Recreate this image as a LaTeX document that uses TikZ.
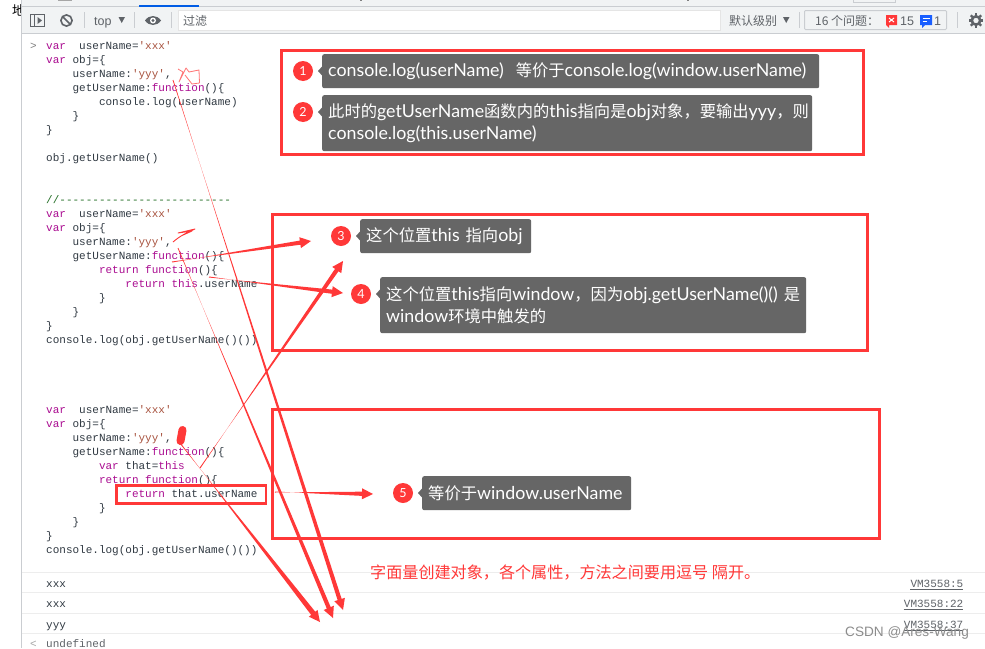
\documentclass[tikz,border=0pt]{standalone}
\usepackage{fontspec}
\usetikzlibrary{calc}
\setmainfont{Lato}
\newfontfamily\cjk{Noto Sans CJK SC}
\newfontfamily\cjkin[Scale=0.916]{Noto Sans CJK SC}
\newfontfamily\mono{Liberation Mono}
\newfontfamily\uisans{Liberation Sans}
\definecolor{redline}{HTML}{FF3838}
\definecolor{calloutgray}{HTML}{666666}
\definecolor{barbg}{HTML}{F1F3F4}
\definecolor{barline}{HTML}{CACDD1}
\definecolor{codebase}{HTML}{303942}
\definecolor{kw}{HTML}{AA0D91}
\definecolor{strc}{HTML}{A8533F}
\definecolor{cmt}{HTML}{236E25}
\definecolor{uigray}{HTML}{5F6368}
\definecolor{rowline}{HTML}{EDEDED}
\newcommand{\K}[1]{\textcolor{kw}{#1}}
\newcommand{\St}[1]{\textcolor{strc}{#1}}
\newcommand{\Cn}[1]{{\cjkin #1}}
\newcommand{\codeln}[4]{\node[codetext] (#1) at (#3,#2+4) {#4};}
% tapered arrow: from, to, tail half width, shaft half width, head half width, head length
\newcommand{\taper}[6]{%
  \coordinate (hb) at ($(#2)!#6pt!(#1)$);
  \fill[redline] ($(#1)!#3pt!90:(#2)$) -- ($(hb)!#4pt!-90:(#2)$) -- ($(hb)!#5pt!-90:(#2)$) -- (#2)
     -- ($(hb)!#5pt!90:(#2)$) -- ($(hb)!#4pt!90:(#2)$) -- ($(#1)!#3pt!-90:(#2)$) -- cycle;
}
\tikzset{
  codetext/.style={anchor=base west,inner sep=0pt,text=codebase,font=\mono\fontsize{11}{13}\selectfont},
  uitext/.style={anchor=base west,inner sep=0pt,text=uigray,font=\uisans\fontsize{12.5}{14}\selectfont},
  cjkui/.style={anchor=base west,inner sep=0pt,text=uigray,font=\cjk\fontsize{12}{14}\selectfont},
  linktext/.style={anchor=base east,inner sep=0pt,text=uigray,font=\mono\fontsize{11}{13}\selectfont},
  redbox/.style={draw=redline,line width=3pt,fill=none},
  callout/.style={anchor=north west,fill=calloutgray,rounded corners=2pt,text=white,inner xsep=6pt,inner ysep=0pt,align=left,font=\fontsize{17.8}{22}\selectfont},
  badge/.style={circle,fill=redline,text=white,minimum size=20pt,inner sep=0pt,font=\fontsize{12.5}{14}\selectfont},
  sepline/.style={draw=barline,line width=1pt},
  rowsep/.style={draw=rowline,line width=1pt},
}
\begin{document}
\begin{tikzpicture}[x=1pt,y=-1pt]
\useasboundingbox (0,0) rectangle (985,648);
\fill[white] (0,0) rectangle (985,648);
\node[anchor=base west,inner sep=0pt,font=\cjk\fontsize{13}{14}\selectfont] (pagechar) at (12,15) {地};
% browser chrome
\fill[white] (22,0) rectangle (985,648);
\fill[barbg] (22,0) rectangle (985,33);
\draw[barline,line width=1pt] (22,6.5) -- (985,6.5);
\draw[barline,line width=1pt] (22,33.5) -- (985,33.5);
\fill[blue!60!cyan!90!black] (139,5) rectangle (199,7);
\draw[gray!70,line width=1pt] (58,0.5) -- (72,0.5);
\draw[gray,line width=1pt] (360,0.5) -- (362,0.5);
\draw[gray,line width=1pt] (687,0.5) -- (689,0.5);
\draw[barline,line width=1pt] (853,0) -- (853,2) -- (895,2) -- (895,0);
\draw[barline,line width=1pt] (21.5,0) -- (21.5,648);
% toolbar icons
\draw[uigray,line width=1pt] (30.5,14.5) rectangle (44.5,26.5);
\draw[uigray,line width=1pt] (34.5,14.5) -- (34.5,26.5);
\fill[uigray] (37.5,17) -- (42,20.5) -- (37.5,24) -- cycle;
\draw[uigray,line width=1.6pt] (66.5,20.5) circle (5.6);
\draw[uigray,line width=1.6pt] (62.5,16.5) -- (70.5,24.5);
\draw[sepline] (84.5,12) -- (84.5,28);
\node[uitext] (topsel) at (94,25) {top};
\fill[uigray] (118.5,17) -- (125,17) -- (121.7,23) -- cycle;
\draw[sepline] (134.5,12) -- (134.5,28);
\fill[uigray] (145,20.5) .. controls (149,14.5) and (157,14.5) .. (161,20.5) .. controls (157,26.5) and (149,26.5) .. (145,20.5) -- cycle;
\fill[white] (153,20.5) circle (3);
\fill[uigray] (153,20.5) circle (1.7);
\draw[sepline] (171.5,12) -- (171.5,28);
\draw[fill=white,draw=black!10,line width=1pt] (178.5,10.5) rectangle (720.5,30.5);
\node[cjkui] (filterlabel) at (183,25) {过滤};
\node[cjkui] (levels) at (729,25) {默认级别};
\fill[uigray] (783,17) -- (789.5,17) -- (786.2,23) -- cycle;
\draw[sepline] (799.5,12) -- (799.5,28);
\draw[fill=barbg,draw=barline,line width=1pt,rounded corners=1pt] (804.5,10.5) rectangle (946.5,29.5);
\node[cjkui] (issues) at (815,25) {16 个问题：};
\fill[redline] (886,15) rectangle (897,25) (886,25) -- (889,28) -- (889,25) -- cycle;
\draw[white,line width=1pt] (889,18) -- (894,22) (894,18) -- (889,22);
\node[uitext] (issuesred) at (900,25) {15};
\fill[blue!70!cyan!90] (920,15) rectangle (932,25) (922,25) -- (922,28) -- (925,25) -- cycle;
\draw[white,line width=1pt] (922.5,18.5) -- (929.5,18.5) (922.5,21.5) -- (927,21.5);
\node[uitext] (issuesblue) at (934,25) {1};
\draw[sepline] (957.5,12) -- (957.5,28);
\draw[uigray,line width=2.6pt] (976,20.5) circle (4.2);
\foreach \a in {0,45,...,315}{\draw[uigray,line width=2.4pt] (976,20.5) ++(\a:5) -- ++(\a:2.4);}
% prompt
\node[anchor=base west,inner sep=0pt,font=\mono\fontsize{11}{12}\selectfont,text=gray] (prompt) at (30,49) {>};
% first block
\codeln{a1}{45}{46}{\K{var}~~userName=\St{'xxx'}}
\codeln{a2}{59}{46}{\K{var} obj=\{}
\codeln{a3}{73}{72.4}{userName:\St{'yyy'},}
\codeln{a4}{87}{72.4}{getUserName:\K{function}()\{}
\codeln{a5}{101}{98.8}{console.log(userName)}
\codeln{a6}{115}{72.4}{\}}
\codeln{a7}{129}{46}{\}}
\codeln{a8}{157}{46}{obj.getUserName()}
% second block
\codeln{b0}{199}{46}{\textcolor{cmt}{//--------------------------}}
\codeln{b1}{213}{46}{\K{var}~~userName=\St{'xxx'}}
\codeln{b2}{227}{46}{\K{var} obj=\{}
\codeln{b3}{241}{72.4}{userName:\St{'yyy'},}
\codeln{b4}{255}{72.4}{getUserName:\K{function}()\{}
\codeln{b5}{269}{98.8}{\K{return} \K{function}()\{}
\codeln{b6}{283}{125.2}{\K{return} \K{this}.userName}
\codeln{b7}{297}{98.8}{\}}
\codeln{b8}{311}{72.4}{\}}
\codeln{b9}{325}{46}{\}}
\codeln{b10}{339}{46}{console.log(obj.getUserName()())}
% third block
\codeln{c1}{409}{46}{\K{var}~~userName=\St{'xxx'}}
\codeln{c2}{423}{46}{\K{var} obj=\{}
\codeln{c3}{437}{72.4}{userName:\St{'yyy'},}
\codeln{c4}{451}{72.4}{getUserName:\K{function}()\{}
\codeln{c5}{465}{98.8}{\K{var} that=\K{this}}
\codeln{c6}{479}{98.8}{\K{return} \K{function}()\{}
\codeln{c7}{493}{125.2}{\K{return} that.userName}
\codeln{c8}{507}{98.8}{\}}
\codeln{c9}{521}{72.4}{\}}
\codeln{c10}{535}{46}{\}}
\codeln{c11}{549}{46}{console.log(obj.getUserName()())}
% log rows
\foreach \yy in {572.5,592.5,613.5,633.5}{\draw[rowsep] (22,\yy) -- (985,\yy);}
\codeln{r1}{583}{46}{xxx}
\codeln{r2}{603}{46}{xxx}
\codeln{r3}{624}{46}{yyy}
\node[codetext,text=uigray] (r4) at (46,647) {undefined};
\node[anchor=base west,inner sep=0pt,font=\mono\fontsize{11}{12}\selectfont,text=gray!70] (retmark) at (30,647) {<};
\node[linktext] (v1) at (963.5,587) {VM3558:5};
\node[linktext] (v2) at (963.5,607) {VM3558:22};
\node[linktext] (v3) at (963.5,628) {VM3558:37};
\draw[uigray,line width=.7pt] (v1.base west)++(0,2) -- ++(53,0);
\draw[uigray,line width=.7pt] (v2.base west)++(0,2) -- ++(59.4,0);
\draw[uigray,line width=.7pt] (v3.base west)++(0,2) -- ++(59.4,0);
% red boxes
\draw[redbox] (281.5,50) rectangle (863,154);
\draw[redbox] (272,214.5) rectangle (867,350);
\draw[redbox] (272,409.5) rectangle (879.5,538);
\draw[redbox,line width=2.5pt] (116.5,485.5) rectangle (266,503.5);
% callouts
\node[callout,text width=485pt,minimum height=34pt] (t1) at (322,54) {console.log(userName)~~\Cn{等价于}console.log(window.userName)};
\node[callout,text width=478pt,minimum height=56pt] (t2) at (322,95) {\Cn{此时的}getUserName\Cn{函数内的}this\Cn{指向是}obj\Cn{对象，要输出}yyy\Cn{，则}\\console.log(this.userName)};
\node[callout,text width=159pt,minimum height=34pt] (t3) at (360,219) {\Cn{这个位置}this \Cn{指向}obj};
\node[callout,text width=414pt,minimum height=56pt] (t4) at (380,277) {\Cn{这个位置}this\Cn{指向}window\Cn{，因为}obj.getUserName()() \Cn{是}\\window\Cn{环境中触发的}};
\node[callout,text width=197pt,minimum height=34pt] (t5) at (422,476) {\Cn{等价于}window.userName};
\foreach \n/\dy in {t1/17,t2/17,t3/17,t4/17,t5/17}{
  \fill[calloutgray] ($(\n.north west)+(0.5,\dy-5)$) -- ($(\n.north west)+(-4,\dy)$) -- ($(\n.north west)+(0.5,\dy+5)$) -- cycle;
}
\node[badge] (n1) at (303,71) {1};
\node[badge] (n2) at (303,112) {2};
\node[badge] (n3) at (341,236) {3};
\node[badge] (n4) at (361,294) {4};
\node[badge] (n5) at (403,493) {5};
% scribbles
\draw[redline!70,line width=.8pt,line join=round] (178,69) -- (183,72) -- (179,82) -- (186,68) -- (189,72) -- (199,70) -- (199.5,83) -- (192,84) -- (185,75);
\draw[redline,line width=.9pt,line join=round] (173,242) .. controls (180,236) and (186,233) .. (195,229) -- (178,233) -- (192,231) -- (181,236);
\draw[redline,line width=8pt,line cap=round] (182.5,430) -- (180.5,441);
% arrow endpoints
\coordinate (p1a) at (172,262); \coordinate (p1b) at (311,241);
\coordinate (p2a) at (209,277); \coordinate (p2b) at (343,293);
\coordinate (p3a) at (200,468); \coordinate (p3b) at (343,261);
\coordinate (p4a) at (275,492); \coordinate (p4b) at (373,494);
\coordinate (p5a) at (173,80);  \coordinate (p5b) at (343,610);
\coordinate (p6a) at (178,248); \coordinate (p6b) at (333,618);
\coordinate (p7a) at (180,443); \coordinate (p7b) at (320,622);
\taper{p1a}{p1b}{.5}{2.1}{5.5}{11}
\taper{p2a}{p2b}{.5}{2.1}{5.5}{11}
\taper{p3a}{p3b}{.5}{2.1}{5.5}{11}
\taper{p4a}{p4b}{.5}{2.1}{5.5}{11}
\taper{p5a}{p5b}{.4}{2.1}{5.5}{11}
\taper{p6a}{p6b}{.4}{2.1}{5.5}{11}
\taper{p7a}{p7b}{.5}{2.6}{5.5}{11}
% note
\node[anchor=base west,inner sep=0pt,text=redline,font=\cjk\fontsize{16.1}{18}\selectfont] (note) at (370,578) {字面量创建对象，各个属性，方法之间要用逗号 隔开。};
% watermark
\node[anchor=base west,inner sep=0pt,text=black!45,font=\uisans\fontsize{13.6}{16}\selectfont] (wm) at (845,636) {CSDN @Ares-Wang};
\end{tikzpicture}
\end{document}
